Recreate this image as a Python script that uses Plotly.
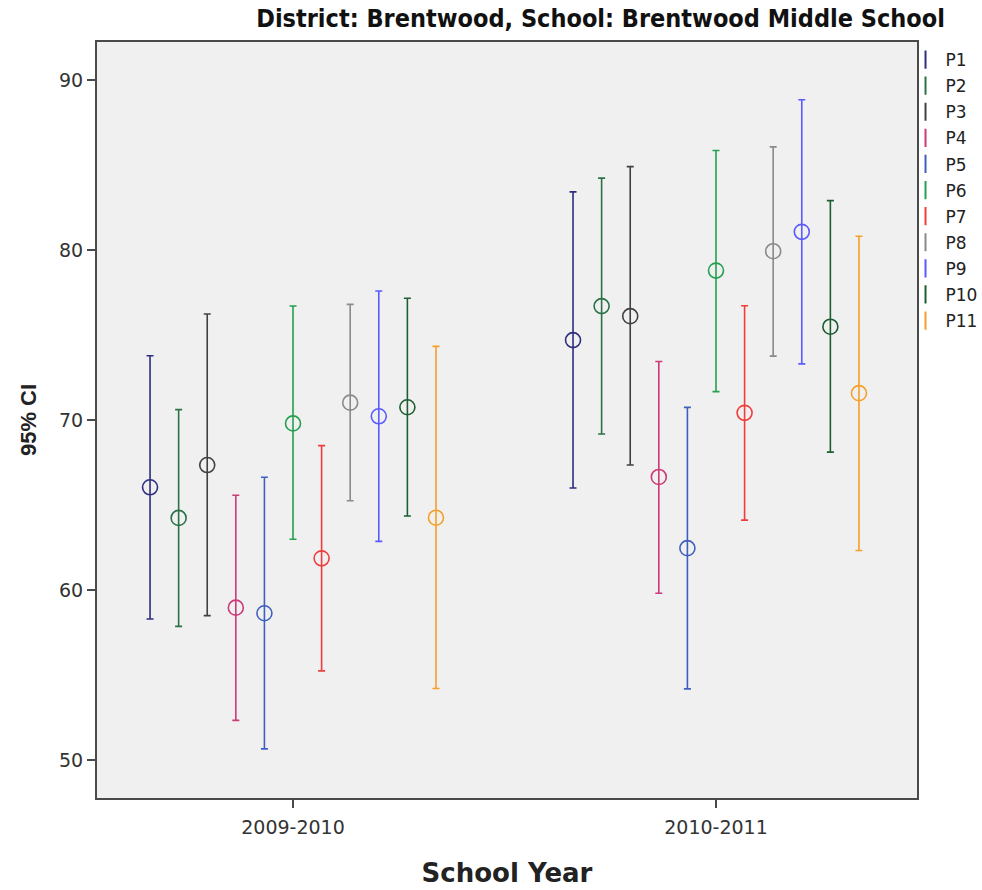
import plotly.graph_objects as go

years = ["2009-2010", "2010-2011"]
series = ["P1", "P2", "P3", "P4", "P5", "P6", "P7", "P8", "P9", "P10", "P11"]

mean_0910 = [66.04, 64.24, 67.35, 58.96, 58.63, 69.80, 61.86, 71.02, 70.22, 70.75, 64.25]
low_0910 = [58.29, 57.86, 58.49, 52.33, 50.65, 62.98, 55.24, 65.25, 62.86, 64.35, 54.20]
high_0910 = [73.78, 70.61, 76.24, 65.57, 66.63, 76.71, 68.49, 76.80, 77.59, 77.16, 74.33]

mean_1011 = [74.70, 76.70, 76.11, 66.65, 62.46, 78.79, 70.42, 79.93, 81.07, 75.49, 71.58]
low_1011 = [66.00, 69.18, 67.35, 59.81, 54.18, 71.67, 64.11, 73.76, 73.30, 68.11, 62.32]
high_1011 = [83.42, 84.23, 84.91, 73.44, 70.74, 85.86, 76.72, 86.07, 88.84, 82.91, 80.81]

colors = ["#2e2e80", "#2a7245", "#404040", "#cc3a78", "#3f5fbf", "#25a050",
          "#f03c3c", "#8a8a8a", "#5a5aff", "#1d5e31", "#f5a02a"]

means = [mean_0910, mean_1011]
lows = [low_0910, low_1011]
highs = [high_0910, high_1011]

step = 0.0676
fig = go.Figure()
for i, name in enumerate(series):
    xs = [yi + (i - 5) * step for yi in range(len(years))]
    ys = [means[k][i] for k in range(len(years))]
    up = [highs[k][i] - means[k][i] for k in range(len(years))]
    dn = [means[k][i] - lows[k][i] for k in range(len(years))]
    fig.add_trace(go.Scatter(
        x=xs, y=ys, mode="markers", name=name, showlegend=False,
        marker=dict(symbol="circle-open", size=15, color=colors[i], line=dict(width=1.6, color=colors[i])),
        error_y=dict(type="data", symmetric=False, array=up, arrayminus=dn,
                     color=colors[i], thickness=1.6, width=3.5),
        hoverinfo="skip",
    ))
for i, name in enumerate(series):
    fig.add_trace(go.Scatter(
        x=[None], y=[None], mode="markers", name=name, legendgroup=name,
        marker=dict(symbol="line-ns-open", size=13, color=colors[i], line=dict(width=2, color=colors[i])),
    ))

axis_font = dict(family="DejaVu Sans, sans-serif", size=19, color="#333333")
fig.update_layout(
    width=982, height=890,
    margin=dict(l=97, r=65, t=42, b=92, autoexpand=False),
    paper_bgcolor="white", plot_bgcolor="#f0f0f0",
    title=dict(text="<b>District: Brentwood, School: Brentwood Middle School</b>",
               x=0.9623, xanchor="right", xref="container", y=0.98, yanchor="middle",
               font=dict(family="Liberation Sans Narrow, DejaVu Sans Condensed, Arial Narrow, sans-serif",
                         size=25, color="#111111")),
    xaxis=dict(range=[-0.4634, 1.4752], tickvals=[0, 1], ticktext=years,
               showgrid=False, zeroline=False, showline=True, mirror=True,
               linecolor="#4a4a4a", linewidth=2, ticks="outside", ticklen=8,
               tickcolor="#4a4a4a", tickwidth=1.5, tickfont=axis_font,
               ticklabelstandoff=3,
               title=dict(text="<b>School Year</b>", standoff=27,
                          font=dict(family="DejaVu Sans, sans-serif", size=26, color="#222222"))),
    yaxis=dict(range=[47.76, 92.24], tickvals=[50, 60, 70, 80, 90],
               showgrid=False, zeroline=False, showline=True, mirror=True,
               linecolor="#4a4a4a", linewidth=2, ticks="outside", ticklen=8,
               tickcolor="#4a4a4a", tickwidth=1.5, tickfont=axis_font,
               title=dict(text="<b>95% CI</b>", standoff=16,
                          font=dict(family="Liberation Sans, Arial, sans-serif", size=22, color="#222222"))),
    legend=dict(x=0.986, xanchor="left", y=1.0, yanchor="top", tracegroupgap=1,
                font=dict(family="DejaVu Sans, sans-serif", size=17, color="#222222"),
                bgcolor="rgba(0,0,0,0)", itemwidth=30),
    showlegend=True,
)
fig.write_html("out.html")
